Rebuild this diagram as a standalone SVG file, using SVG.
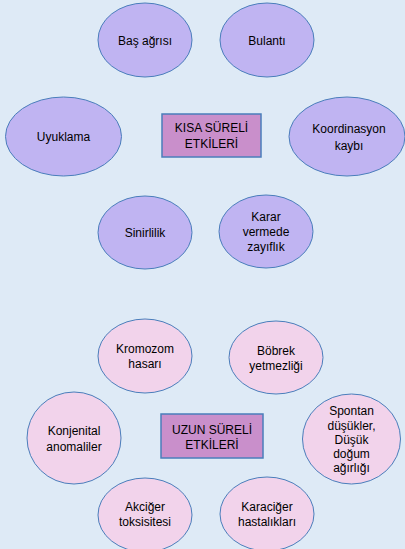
<svg xmlns="http://www.w3.org/2000/svg" width="405" height="549" viewBox="0 0 405 549">
<style>
text{font-family:"Liberation Sans",Arial,sans-serif;font-size:12px;fill:#000;text-anchor:middle}
.lav{fill:#C0B4F2;stroke:#4A7EBB;stroke-width:1}
.pink{fill:#F2D3EB;stroke:#4A7EBB;stroke-width:1}
.box{fill:#C98FCB;stroke:#4A7EBB;stroke-width:1.5}
</style>
<rect x="0" y="0" width="405" height="549" fill="#DEEAF6"/>
<g id="kisa">
<rect class="box" x="162" y="114" width="99" height="43"/>
<text x="211.5" y="132">KISA SÜRELİ</text>
<text x="211.5" y="148">ETKİLERİ</text>
</g>
<g id="bas-agrisi"><ellipse class="lav" cx="145" cy="40" rx="47" ry="37"/><text x="145" y="45">Baş ağrısı</text></g>
<g id="bulanti"><ellipse class="lav" cx="267" cy="40" rx="47" ry="37"/><text x="267" y="45">Bulantı</text></g>
<g id="uyuklama"><ellipse class="lav" cx="63.5" cy="136.5" rx="58" ry="39.5"/><text x="63.5" y="141">Uyuklama</text></g>
<g id="koordinasyon"><ellipse class="lav" cx="347" cy="136.5" rx="58" ry="39.5"/><text x="349" y="133">Koordinasyon</text><text x="349" y="150">kaybı</text></g>
<g id="sinirlilik"><ellipse class="lav" cx="145" cy="232.5" rx="47" ry="36.5"/><text x="145" y="237">Sinirlilik</text></g>
<g id="karar"><ellipse class="lav" cx="266" cy="231.5" rx="47" ry="36.5"/><text x="266" y="221">Karar</text><text x="266" y="236">vermede</text><text x="266" y="251">zayıflık</text></g>
<g id="uzun">
<rect class="box" x="161" y="414" width="102" height="44"/>
<text x="212" y="434">UZUN SÜRELİ</text>
<text x="212" y="449">ETKİLERİ</text>
</g>
<g id="kromozom"><ellipse class="pink" cx="145" cy="356" rx="47" ry="37"/><text x="145" y="353">Kromozom</text><text x="145" y="368">hasarı</text></g>
<g id="bobrek"><ellipse class="pink" cx="276" cy="357.5" rx="47" ry="36.5"/><text x="276" y="355">Böbrek</text><text x="276" y="370">yetmezliği</text></g>
<g id="konjenital"><ellipse class="pink" cx="74" cy="438" rx="47" ry="46"/><text x="74" y="435">Konjenital</text><text x="74" y="451">anomaliler</text></g>
<g id="spontan"><ellipse class="pink" cx="351.5" cy="439" rx="49" ry="45"/><text x="351.5" y="415">Spontan</text><text x="351.5" y="430">düşükler,</text><text x="351.5" y="444">Düşük</text><text x="351.5" y="458">doğum</text><text x="351.5" y="472">ağırlığı</text></g>
<g id="akciger"><ellipse class="pink" cx="145" cy="515" rx="47" ry="37"/><text x="145" y="511">Akciğer</text><text x="145" y="526">toksisitesi</text></g>
<g id="karaciger"><ellipse class="pink" cx="267" cy="514" rx="47" ry="37"/><text x="267" y="511">Karaciğer</text><text x="267" y="526">hastalıkları</text></g>
</svg>
